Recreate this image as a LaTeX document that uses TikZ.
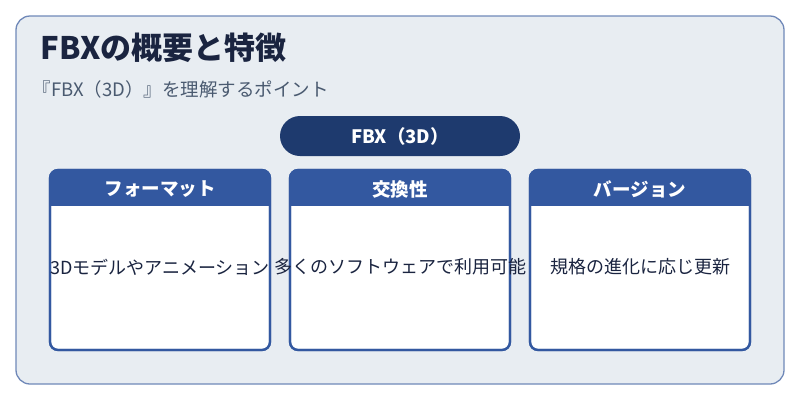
\documentclass[tikz,border=0pt]{standalone}
\usepackage{fontspec}
\setmainfont{Noto Sans CJK JP}
\definecolor{bg}{HTML}{E8EDF2}
\definecolor{frame}{HTML}{6F88B8}
\definecolor{navy}{HTML}{1E3A6E}
\definecolor{hdr}{HTML}{3358A0}
\definecolor{ttl}{HTML}{1A2440}
\definecolor{sub}{HTML}{4A5A70}
\tikzset{
 card/.style={draw=hdr,line width=2.2pt,rounded corners=8pt,fill=white,minimum width=220pt,minimum height=180pt,inner sep=0pt},
 htxt/.style={text=white,font=\fontsize{18.5}{20}\selectfont\bfseries},
 btxt/.style={text=ttl,font=\fontsize{18}{20}\selectfont}
}
\begin{document}
\begin{tikzpicture}[x=1pt,y=-1pt]
\useasboundingbox (0,0) rectangle (800,400);
\draw[fill=bg,draw=frame,line width=1.3pt,rounded corners=14pt] (16,16) rectangle (784,384);
\node[anchor=west,text=ttl,font=\fontsize{31}{34}\selectfont\bfseries] (title) at (37,48) {FBXの概要と特徴};
\node[anchor=west,text=sub,font=\fontsize{18.5}{21}\selectfont] (subt) at (29,89) {『FBX（3D）』を理解するポイント};
\node[fill=navy,rounded corners=20pt,minimum width=240pt,minimum height=40pt,text=white,font=\fontsize{18.5}{20}\selectfont\bfseries] (top) at (400,136) {FBX（3D）};
\foreach \cx/\h/\b/\n in {160/フォーマット/3Dモデルやアニメーション/a,400/交換性/多くのソフトウェアで利用可能/b,640/バージョン/規格の進化に応じ更新/c}{
  \node[card] (card\n) at (\cx,260) {};
  \begin{scope}
    \clip[rounded corners=8pt] (\cx-110,170) rectangle (\cx+110,350);
    \fill[hdr] (\cx-110,170) rectangle (\cx+110,206);
  \end{scope}
  \draw[hdr,line width=2.2pt,rounded corners=8pt] (\cx-110,170) rectangle (\cx+110,350);
  \node[htxt] (h\n) at (\cx,189) {\h};
  \node[btxt] (t\n) at (\cx,267) {\b};
}
\end{tikzpicture}
\end{document}
